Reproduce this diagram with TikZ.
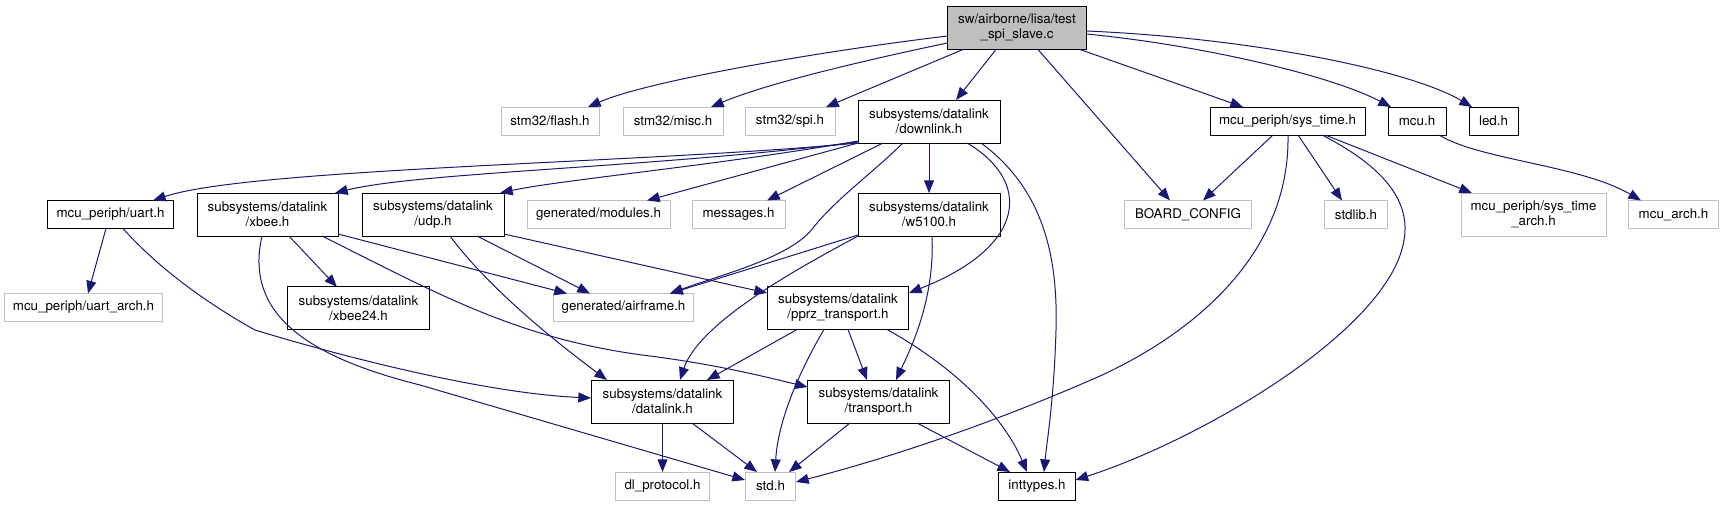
\documentclass[tikz,border=0pt]{standalone}
\usepackage{fontspec}
\setmainfont{TeX Gyre Heros}
\usetikzlibrary{arrows.meta,calc}
\definecolor{edgeblue}{RGB}{25,25,112}
\definecolor{greyborder}{RGB}{191,191,191}
\definecolor{mainfill}{RGB}{191,191,191}
\begin{document}
\begin{tikzpicture}[x=0.75pt,y=-0.75pt,
  every node/.style={font=\fontsize{10}{11.25}\selectfont, align=center, inner sep=0pt, line width=0.75pt},
  doc/.style={draw=black, fill=white, minimum height=21pt},
  undoc/.style={draw=greyborder, fill=white, minimum height=21pt},
  two/.style={minimum height=32.25pt},
  wd/.style={minimum width={#1*0.75pt}},
  dep/.style={draw=edgeblue, line width=0.75pt, -{Triangle[length=9.5pt,width=7.5pt]}},
]
\useasboundingbox (0,0) rectangle (1723,507);

% row 0
\node[doc,two,wd=139,fill=mainfill] (main) at (1017,28) {sw/airborne/lisa/test\\\_spi\_slave.c};
% row 1
\node[undoc,wd=98] (flash) at (550,121) {stm32/flash.h};
\node[undoc,wd=100] (misc) at (673,121) {stm32/misc.h};
\node[undoc,wd=90] (spi) at (790,121) {stm32/spi.h};
\node[doc,two,wd=142] (downlink) at (929,121.5) {subsystems/datalink\\/downlink.h};
\node[doc,wd=155] (systime) at (1287.5,121) {mcu\_periph/sys\_time.h};
\node[doc,wd=58] (mcu) at (1417,121) {mcu.h};
\node[doc,wd=49] (led) at (1493.5,121) {led.h};
% row 2
\node[doc,wd=125.5] (uart) at (110.5,214.5) {mcu\_periph/uart.h};
\node[doc,two,wd=141] (xbee) at (267.5,214.5) {subsystems/datalink\\/xbee.h};
\node[doc,two,wd=142] (udp) at (433,214.5) {subsystems/datalink\\/udp.h};
\node[undoc,wd=143] (modules) at (598.5,214.5) {generated/modules.h};
\node[undoc,wd=93] (messages) at (738.5,214.5) {messages.h};
\node[doc,two,wd=142] (w5100) at (929,214.5) {subsystems/datalink\\/w5100.h};
\node[undoc,wd=127] (board) at (1188,214.5) {BOARD\_CONFIG};
\node[undoc,wd=63] (stdlib) at (1356,214.5) {stdlib.h};
\node[undoc,two,wd=145] (systimearch) at (1533.5,214.5) {mcu\_periph/sys\_time\\\_arch.h};
\node[undoc,wd=89.5] (mcuarch) at (1673.5,214.5) {mcu\_arch.h};
% row 3
\node[undoc,wd=158] (uartarch) at (83.5,307.5) {mcu\_periph/uart\_arch.h};
\node[doc,two,wd=141.5] (xbee24) at (358.5,308) {subsystems/datalink\\/xbee24.h};
\node[undoc,wd=140] (airframe) at (623.5,307.5) {generated/airframe.h};
\node[doc,two,wd=141.5] (pprz) at (838,308) {subsystems/datalink\\/pprz\_transport.h};
% row 4
\node[doc,two,wd=142.5] (datalink) at (662.5,401.5) {subsystems/datalink\\/datalink.h};
\node[doc,two,wd=141.5] (transport) at (878.5,401.5) {subsystems/datalink\\/transport.h};
% row 5
\node[undoc,wd=94.5] (dlprot) at (662.5,486) {dl\_protocol.h};
\node[undoc,wd=50.5] (std) at (770.5,486) {std.h};
\node[doc,wd=76.5] (inttypes) at (1037,486) {inttypes.h};

% edges from main
\draw[dep] ($(main)+(-69.5,8)$) .. controls (830,50) and (650,80) .. ($(flash)+(38,-14)$);
\draw[dep] ($(main)+(-69.5,15)$) .. controls (880,57) and (770,82) .. ($(misc)+(38,-14)$);
\draw[dep] ($(main)+(-54,21.5)$) -- ($(spi)+(36,-14)$);
\draw[dep] ($(main)+(-21,21.5)$) -- ($(downlink)+(27,-21.5)$);
\draw[dep] ($(main)+(21,21.5)$) -- ($(board)+(-18,-14)$);
\draw[dep] ($(main)+(63,21.5)$) -- ($(systime)+(-44.5,-14)$);
\draw[dep] ($(main)+(69.5,6)$) .. controls (1200,45) and (1330,75) .. ($(mcu)+(-26,-14)$);
\draw[dep] ($(main)+(69.5,3)$) .. controls (1250,38) and (1410,70) .. ($(led)+(-21.5,-14)$);

% edges from downlink
\draw[dep] ($(downlink)+(-71,21.5)$) .. controls (650,163) and (250,168) .. ($(uart)+(42.5,-14)$);
\draw[dep] ($(downlink)+(-71,20.5)$) .. controls (650,168) and (420,172) .. ($(xbee)+(67.5,-21.5)$);
\draw[dep] ($(downlink)+(-71,19.5)$) .. controls (720,165) and (560,180) .. ($(udp)+(67,-21.5)$);
\draw[dep] ($(downlink)+(-71,21.5)$) -- ($(modules)+(48.5,-14)$);
\draw[dep] ($(downlink)+(-46,21.5)$) -- ($(messages)+(28.5,-14)$);
\draw[dep] ($(downlink)+(0,21.5)$) -- ($(w5100)+(0,-21.5)$);
\draw[dep] ($(downlink)+(-26,21.5)$) .. controls (870,175) and (835,200) .. (813,228) .. controls (790,258) and (720,275) .. ($(airframe)+(46.5,-14)$);
\draw[dep] ($(downlink)+(38,21.5)$) .. controls (1030,180) and (1030,245) .. ($(pprz)+(71,-15)$);
\draw[dep] ($(downlink)+(52,21.5)$) .. controls (1045,190) and (1058,260) .. (1056,330) .. controls (1054,400) and (1047,440) .. ($(inttypes)+(7,-14)$);

% edges from w5100
\draw[dep] ($(w5100)+(-71,20.5)$) -- ($(airframe)+(46.5,-14)$);
\draw[dep] ($(w5100)+(-71,21.5)$) .. controls (810,262) and (700,320) .. ($(datalink)+(17.5,-21.5)$);
\draw[dep] ($(w5100)+(3,21.5)$) .. controls (935,300) and (910,350) .. ($(transport)+(17.5,-21.5)$);

% edges from uart
\draw[dep] ($(uart)+(-4.5,14)$) -- ($(uartarch)+(4.5,-14)$);
\draw[dep] ($(uart)+(12.5,14)$) .. controls (160,270) and (210,305) .. (255,330) .. controls (330,353) and (480,393) .. ($(datalink)+(-71.5,-3.5)$);

% edges from xbee
\draw[dep] ($(xbee)+(-5.5,21.5)$) .. controls (245,310) and (300,355) .. (420,385) -- ($(std)+(-25.5,-6)$);
\draw[dep] ($(xbee)+(21.5,21.5)$) -- ($(xbee24)+(-21.5,-21)$);
\draw[dep] ($(xbee)+(70.5,19.5)$) -- ($(airframe)+(-56.5,-14)$);
\draw[dep] ($(xbee)+(54.5,21.5)$) .. controls (440,295) and (520,340) .. (650,356) .. controls (720,365) and (770,378) .. ($(transport)+(-71,-14.5)$);

% edges from udp
\draw[dep] ($(udp)+(44,21.5)$) -- ($(airframe)+(-33.5,-14)$);
\draw[dep] ($(udp)+(17,21.5)$) .. controls (490,290) and (560,345) .. ($(datalink)+(-55.5,-21.5)$);
\draw[dep] ($(udp)+(71,19.5)$) -- ($(pprz)+(-71,-15)$);

% edges from pprz
\draw[dep] ($(pprz)+(-41,21.5)$) -- ($(datalink)+(44.5,-21.5)$);
\draw[dep] ($(pprz)+(-14,21.5)$) .. controls (800,370) and (778,420) .. ($(std)+(4.5,-14)$);
\draw[dep] ($(pprz)+(10,21.5)$) -- ($(transport)+(-11.5,-21.5)$);
\draw[dep] ($(pprz)+(49,21.5)$) .. controls (960,370) and (1005,420) .. ($(inttypes)+(-10,-14)$);

% edges from datalink
\draw[dep] ($(datalink)+(0,21.5)$) -- ($(dlprot)+(0,-14)$);
\draw[dep] ($(datalink)+(29.5,21.5)$) -- ($(std)+(-13.5,-14)$);

% edges from transport
\draw[dep] ($(transport)+(-28.5,21.5)$) -- ($(std)+(18.5,-14)$);
\draw[dep] ($(transport)+(38.5,21.5)$) -- ($(inttypes)+(-27,-14)$);

% edges from sys_time
\draw[dep] ($(systime)+(-14.5,14)$) -- ($(board)+(15,-14)$);
\draw[dep] ($(systime)+(0.5,14)$) .. controls (1290,250) and (1200,330) .. (1100,376) .. controls (1000,420) and (900,455) .. ($(std)+(25.5,-4)$);
\draw[dep] ($(systime)+(10.5,14)$) -- ($(stdlib)+(-14,-14)$);
\draw[dep] ($(systime)+(34.5,14)$) .. controls (1390,170) and (1410,205) .. (1404,240) .. controls (1390,330) and (1200,440) .. ($(inttypes)+(38.5,-6)$);
\draw[dep] ($(systime)+(37.5,14)$) -- ($(systimearch)+(-61.5,-21.5)$);

% edge from mcu
\draw[dep] ($(mcu)+(22,14)$) .. controls (1480,160) and (1580,165) .. ($(mcuarch)+(-32.5,-14)$);
\end{tikzpicture}
\end{document}
